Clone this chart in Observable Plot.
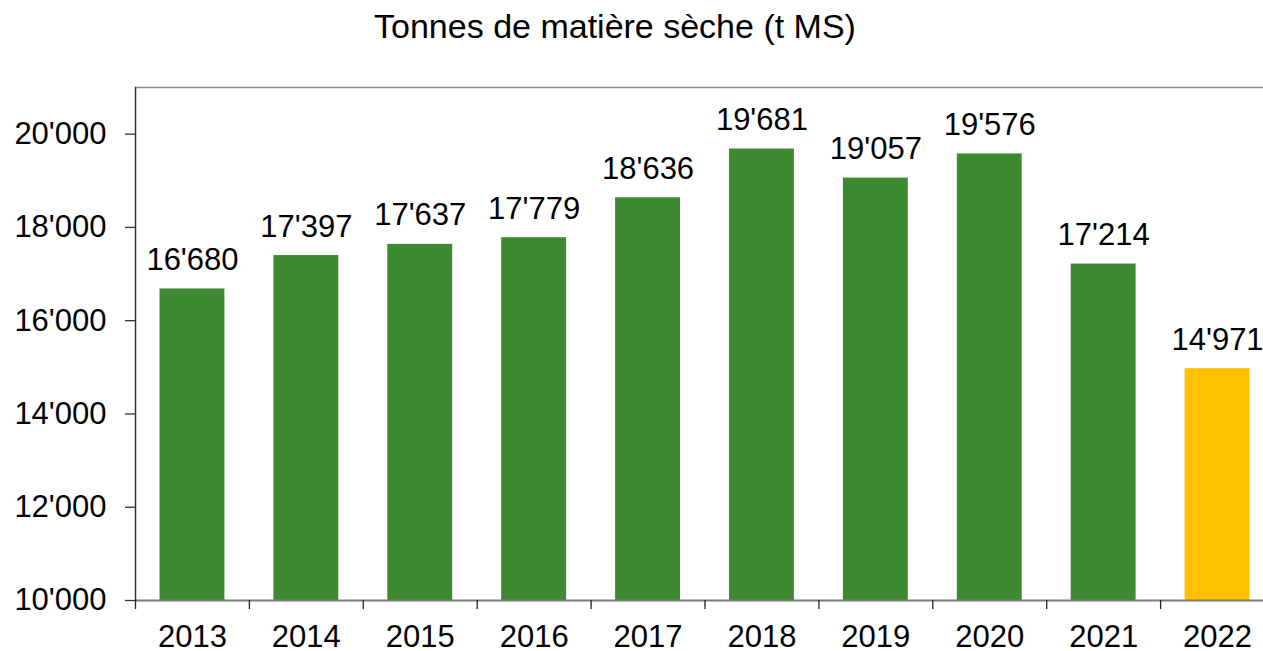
<!DOCTYPE html>
<html>
<head>
<meta charset="utf-8">
<script src="https://cdn.jsdelivr.net/npm/d3@7"></script>
<script src="https://cdn.jsdelivr.net/npm/@observablehq/plot@0.6"></script>
<style>
  html, body { margin: 0; padding: 0; background: #fff; overflow: hidden; }
  #title { width: 1230px; height: 60px; text-align: center; font-family: "Liberation Sans", Arial, sans-serif; font-size: 34px; line-height: 52px; color: #000; }
  svg { display: block; }
</style>
</head>
<body>
<div id="title">Tonnes de matière sèche (t MS)</div>
<div id="chart"></div>
<script>
const years = ["2013", "2014", "2015", "2016", "2017", "2018", "2019", "2020", "2021", "2022"];
const values = [16680, 17397, 17637, 17779, 18636, 19681, 19057, 19576, 17214, 14971];
const groups = ["past", "past", "past", "past", "past", "past", "past", "past", "past", "current"];
const yTicks = [10000, 12000, 14000, 16000, 18000, 20000];
const yDomain = [10000, 21000];

const data = years.map((year, i) => ({year, value: values[i], group: groups[i]}));
const fmt = d3.formatLocale({decimal: ".", thousands: "'", grouping: [3], currency: ["", ""]}).format(",d");

const width = 1263, marginLeft = 135, marginRight = -11;
const step = (width - marginLeft - marginRight) / years.length;
const font = "'Liberation Sans', Arial, sans-serif";

const chart = Plot.plot({
  width,
  height: 591,
  marginLeft,
  marginRight,
  marginTop: 27,
  marginBottom: 51,
  style: {fontFamily: font, fontSize: "31px", color: "#000", overflow: "visible"},
  x: {type: "band", domain: years, padding: 0, round: false, axis: null, label: null},
  y: {domain: yDomain, axis: null, label: null},
  color: {domain: ["past", "current"], range: ["#3E8A31", "#FFC000"]},
  marks: [
    Plot.barY(data, {x: "year", y1: yDomain[0], y2: "value", fill: "group", insetLeft: 24.5, insetRight: 24.5}),
    Plot.ruleY([yDomain[1]], {stroke: "#8a8a8a", strokeWidth: 1.5}),
    Plot.ruleY([yDomain[0]], {stroke: "#7a7a7a", strokeWidth: 2}),
    Plot.axisY({ticks: yTicks, tickSize: 10, tickPadding: 19, tickFormat: fmt, fontSize: 31, label: null, stroke: "#333", strokeWidth: 1.3}),
    Plot.frame({anchor: "left", stroke: "#333", strokeWidth: 1.5}),
    Plot.axisX({tickSize: 9, tickFormat: () => "", label: null, dx: -step / 2, stroke: "#222", strokeWidth: 1.3}),
    Plot.axisX({tickSize: 0, tickPadding: 24, fontSize: 31, label: null, fill: "#000"}),
    Plot.text(data, {x: "year", y: "value", text: d => fmt(d.value), lineAnchor: "bottom", dy: -19, fontSize: 31, fill: "#000"})
  ]
});
document.getElementById("chart").append(chart);
</script>
</body>
</html>
